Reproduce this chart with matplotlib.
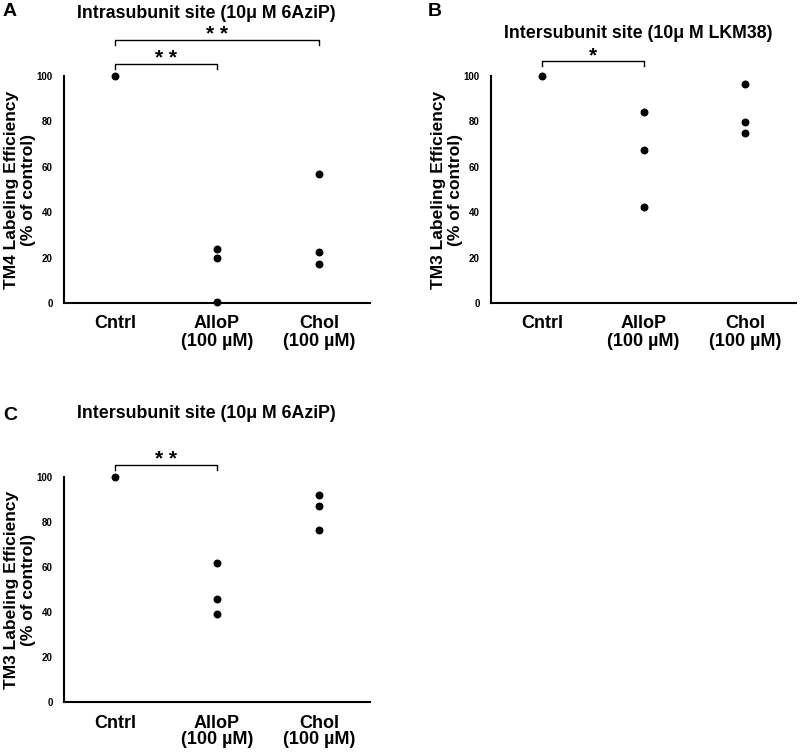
import matplotlib
matplotlib.use("Agg")
import matplotlib.pyplot as plt

plt.rcParams["font.family"] = ["Liberation Sans", "DejaVu Sans"]
plt.rcParams["font.weight"] = "bold"

categories = ["Cntrl", "AlloP\n(100 µM)", "Chol\n(100 µM)"]
yticks = [0, 20, 40, 60, 80, 100]

# panel A: TM4, intrasubunit, 6AziP
a_cntrl = [100]
a_allop = [24.0, 19.9, 0.3]
a_chol = [57.0, 22.5, 17.4]

# panel B: TM3, intersubunit, LKM38
b_cntrl = [100]
b_allop = [84.2, 67.3, 42.4]
b_chol = [96.6, 79.8, 74.8]

# panel C: TM3, intersubunit, 6AziP
c_cntrl = [100]
c_allop = [61.6, 45.6, 39.1]
c_chol = [92.2, 87.3, 76.5]

W, H = 800, 754
fig = plt.figure(figsize=(W / 100, H / 100), dpi=100)


def px_axes(left, top, right, bottom):
    return fig.add_axes([left / W, 1 - bottom / H, (right - left) / W, (bottom - top) / H])


def bracket(ax, i, j, y, drop, stars):
    ax.plot([i, i, j, j], [y - drop, y, y, y - drop], color="black", lw=1.0, clip_on=False)
    ax.text((i + j) / 2, y - 2.0, stars, ha="center", va="bottom", fontsize=15, clip_on=False)


def panel(ax, groups, ylabel, brackets, label_x):
    for k, vals in enumerate(groups):
        ax.scatter([k + 0.5] * len(vals), vals, s=22, color="black", zorder=3, clip_on=False)
    ax.set_xlim(0, 3)
    ax.set_ylim(0, 100)
    ax.set_xticks([0.5, 1.5, 2.5])
    ax.set_xticklabels(categories, fontsize=13, fontweight="bold", linespacing=1.0)
    ax.set_yticks(yticks)
    ax.set_yticklabels([str(v) for v in yticks], fontsize=7, fontweight="bold")
    ax.tick_params(axis="both", length=0)
    ax.tick_params(axis="y", pad=8)
    ax.tick_params(axis="x", pad=9)
    for s in ["top", "right"]:
        ax.spines[s].set_visible(False)
    for s in ["left", "bottom"]:
        ax.spines[s].set_linewidth(1.5)
    ax.text(label_x, 0.5, ylabel, transform=ax.transAxes, rotation=90, ha="center",
            va="center", fontsize=12.5, fontweight="bold", linespacing=1.15)
    for (i, j, y, d, st) in brackets:
        bracket(ax, i, j, y, d, st)


ax_a = px_axes(64, 76, 370, 303)
panel(ax_a, [a_cntrl, a_allop, a_chol], "TM4 Labeling Efficiency\n(% of control)",
      [(0.5, 1.5, 105.4, 2.4, "* *"), (0.5, 2.5, 116.0, 2.5, "* *")], -44 / 306)

ax_b = px_axes(491, 76, 796, 303)
panel(ax_b, [b_cntrl, b_allop, b_chol], "TM3 Labeling Efficiency\n(% of control)",
      [(0.5, 1.5, 106.5, 2.2, "*")], -44 / 305)

ax_c = px_axes(64, 477, 370, 702)
panel(ax_c, [c_cntrl, c_allop, c_chol], "TM3 Labeling Efficiency\n(% of control)",
      [(0.5, 1.5, 105.5, 2.3, "* *")], -44 / 306)

fig.text(206 / W, 1 - 13 / H, "Intrasubunit site (10μ M 6AziP)", ha="center", va="center",
         fontsize=12.8, fontweight="bold")
fig.text(638 / W, 1 - 33 / H, "Intersubunit site (10μ M LKM38)", ha="center", va="center",
         fontsize=12.8, fontweight="bold")
fig.text(206 / W, 1 - 413 / H, "Intersubunit site (10μ M 6AziP)", ha="center", va="center",
         fontsize=12.8, fontweight="bold")

fig.text(3 / W, 1 - 12 / H, "A", ha="left", va="center", fontsize=14, fontweight="bold")
fig.text(428 / W, 1 - 12 / H, "B", ha="left", va="center", fontsize=14, fontweight="bold")
fig.text(3 / W, 1 - 415 / H, "C", ha="left", va="center", fontsize=14, fontweight="bold")

fig.savefig("out.png", dpi=100)
